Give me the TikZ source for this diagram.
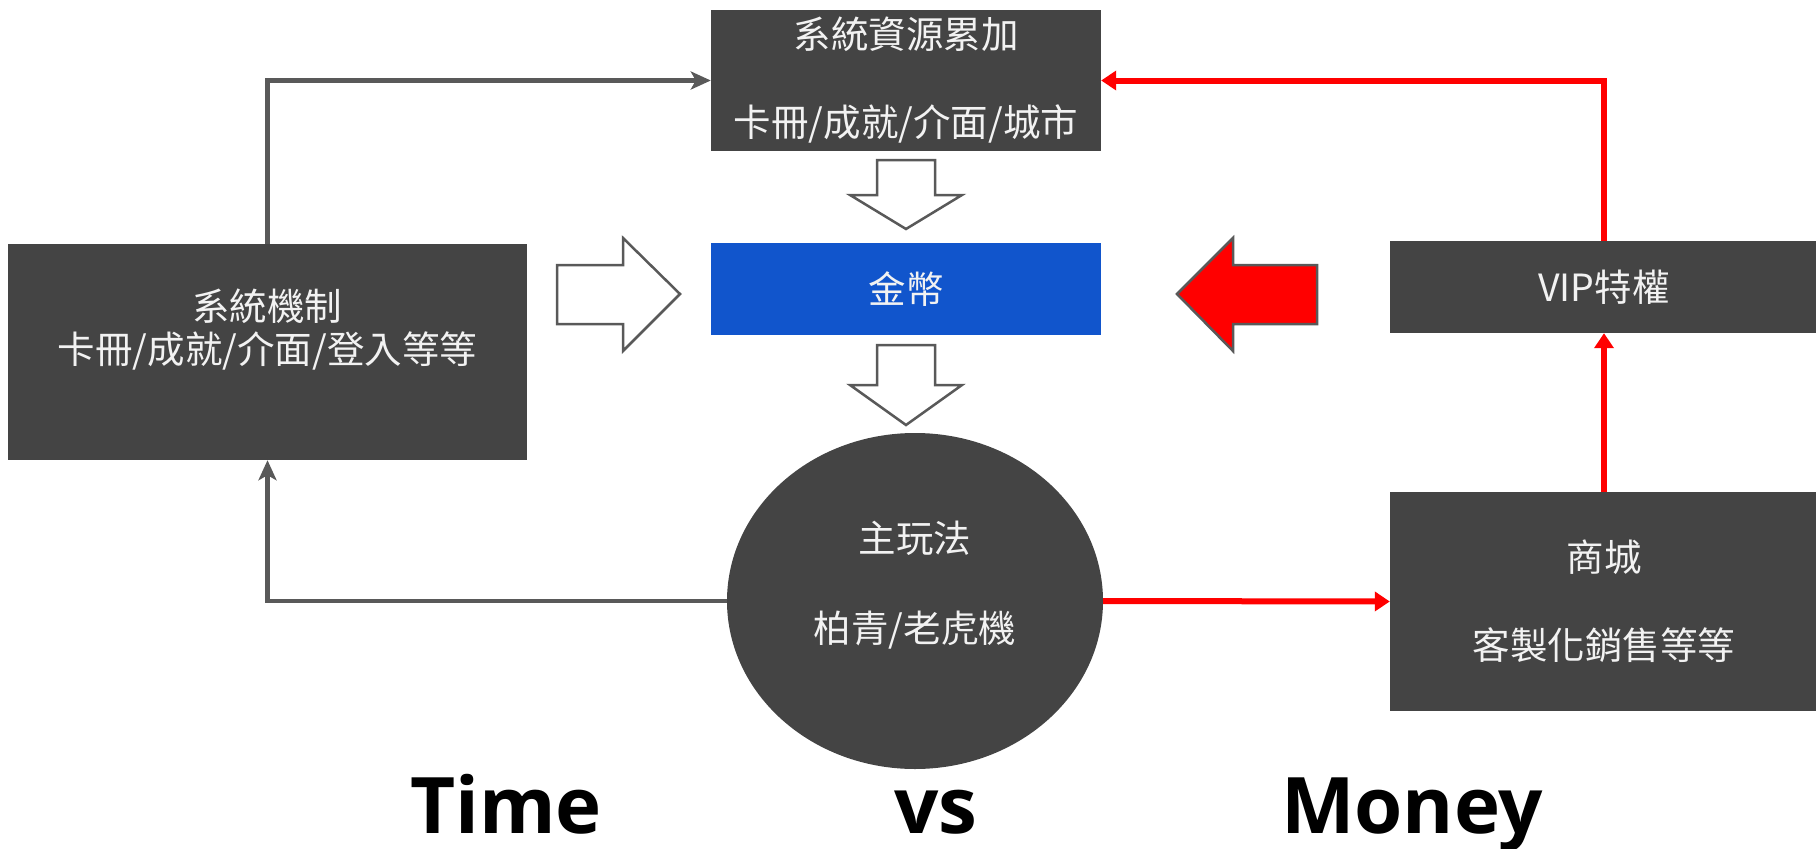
\documentclass[tikz,border=0pt]{standalone}
\usepackage{fontspec}
\newfontfamily\cjkfont{Noto Sans CJK TC}
\newfontfamily\bigsans{Open Sans}
\usetikzlibrary{shapes.geometric,arrows.meta}
\definecolor{boxgray}{HTML}{444444}
\definecolor{linegray}{HTML}{595959}
\definecolor{txtgray}{HTML}{F2F2F2}
\definecolor{coinblue}{HTML}{1155CC}
\definecolor{vred}{HTML}{FF0000}
\begin{document}
\begin{tikzpicture}[x=1pt,y=-1pt,
  darkbox/.style={fill=boxgray, draw=none, inner sep=0pt, text=txtgray, align=center,
    font=\cjkfont\fontsize{37.5}{43}\selectfont},
  boxtext/.style={inner sep=0pt, text=txtgray, align=center, font=\cjkfont\fontsize{37.5}{43}\selectfont},
  grayconn/.style={draw=linegray, line width=4.5pt, -{Stealth[length=20pt,width=18pt,inset=5pt]}},
  redconn/.style={draw=vred, line width=6pt, -{Triangle[length=15pt,width=19pt]}},
  blockarrow/.style={draw=linegray, line width=2.5pt, fill=white, line join=miter},
  bigword/.style={font=\bigsans\bfseries\fontsize{78}{90}\selectfont, anchor=base, inner sep=0pt}
]
\useasboundingbox (0,0) rectangle (1816,849);

% boxes
\node[darkbox, minimum width=390pt, minimum height=141pt] (top) at (906,80.5)
  {系統資源累加\\[45pt]卡冊/成就/介面/城市};
\node[fill=coinblue, inner sep=0pt, minimum width=390pt, minimum height=92pt,
  text=txtgray, font=\cjkfont\fontsize{37.5}{43}\selectfont] (coin) at (906,289) {金幣};
\node[darkbox, minimum width=519pt, minimum height=216pt] (sys) at (267.5,352) {};
\node[boxtext] (systext) at (267.5,329.5) {系統機制\\卡冊/成就/介面/登入等等};
\node[darkbox, minimum width=428pt, minimum height=92pt] (vip) at (1604,287) {VIP特權};
\node[darkbox, minimum width=428pt, minimum height=219pt] (shop) at (1604,601.5)
  {商城\\[45pt]客製化銷售等等};
\node[ellipse, fill=boxgray, draw=none, inner sep=0pt, minimum width=376pt, minimum height=336pt]
  (main) at (915,601) {};
\node[boxtext] (maintext) at (915,585) {主玩法\\[47pt]柏青/老虎機};

% block arrows
\draw[blockarrow] (877,160) -- (935,160) -- (935,195) -- (962,195) -- (906,229)
  -- (850,195) -- (877,195) -- cycle;
\draw[blockarrow] (877,345) -- (935,345) -- (935,385) -- (962,385) -- (906,425)
  -- (850,385) -- (877,385) -- cycle;
\draw[blockarrow] (557,265) -- (623,265) -- (623,238) -- (680,294) -- (623,351)
  -- (623,324) -- (557,324) -- cycle;
\draw[blockarrow, fill=vred] (1317,265) -- (1233,265) -- (1233,238) -- (1177,294)
  -- (1233,351) -- (1233,324) -- (1317,324) -- cycle;

% connectors
\draw[grayconn] (sys.north) |- (top.west);
\draw[grayconn] (main.west) -| (sys.south);
\draw[redconn] (main.east) -- (shop.west);
\draw[redconn] (shop.north) -- (vip.south);
\draw[redconn] (vip.north) |- (top.east);

% bottom words
\node[bigword] (time) at (506,833) {Time};
\node[bigword] (vs) at (936,833) {vs};
\node[bigword] (money) at (1412,833) {Money};
\end{tikzpicture}
\end{document}
